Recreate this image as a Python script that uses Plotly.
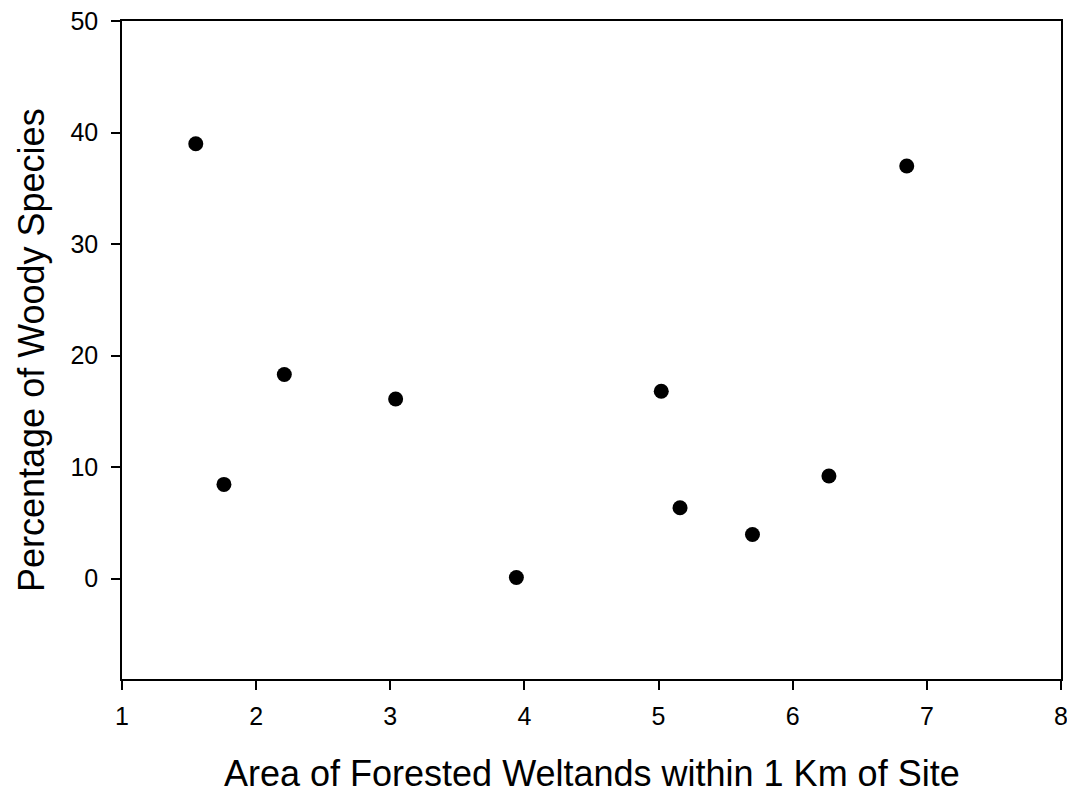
import plotly.graph_objects as go

area = [1.55, 1.76, 2.21, 3.04, 3.94, 5.02, 5.16, 5.70, 6.27, 6.85]
woody = [39.0, 8.45, 18.3, 16.1, 0.1, 16.8, 6.35, 3.95, 9.2, 37.0]

x_ticks = [1, 2, 3, 4, 5, 6, 7, 8]
y_ticks = [0, 10, 20, 30, 40, 50]

fig = go.Figure()
fig.add_trace(go.Scatter(
    x=area, y=woody, mode="markers",
    marker=dict(color="black", size=15, line=dict(width=0)),
    showlegend=False,
))

font = "Liberation Sans, Arial, sans-serif"
# page body adds an 8px offset, so the figure is sized to fit the window
fig.update_layout(
    width=1067, height=789,
    margin=dict(l=114, r=14, t=13, b=118),
    paper_bgcolor="white", plot_bgcolor="white",
    font=dict(family=font, color="black"),
)
fig.update_xaxes(
    range=[1, 8], tickvals=x_ticks, ticks="outside", ticklen=9, tickwidth=1.5,
    tickcolor="black", showline=True, linecolor="black", linewidth=1.5,
    mirror=True, showgrid=False, zeroline=False, automargin=False,
    tickfont=dict(size=25, family=font), ticklabelstandoff=5,
    ticklabeloverflow="allow",
)
fig.update_yaxes(
    range=[-9, 50], tickvals=y_ticks, ticks="outside", ticklen=9, tickwidth=1.5,
    tickcolor="black", showline=True, linecolor="black", linewidth=1.5,
    mirror=True, showgrid=False, zeroline=False, automargin=False,
    tickfont=dict(size=25, family=font), ticklabelstandoff=8,
    ticklabeloverflow="allow",
)
fig.add_annotation(
    text="Area of Forested Weltands within 1 Km of Site",
    xref="paper", yref="paper", x=0.5, y=0.0, yshift=-94,
    xanchor="center", yanchor="middle", showarrow=False,
    font=dict(size=36, family=font, color="black"),
)
fig.add_annotation(
    text="Percentage of Woody Species",
    xref="paper", yref="paper", x=0.0, y=0.5, xshift=-91,
    xanchor="center", yanchor="middle", textangle=-90, showarrow=False,
    font=dict(size=36, family=font, color="black"),
)
fig.write_html("out.html")
